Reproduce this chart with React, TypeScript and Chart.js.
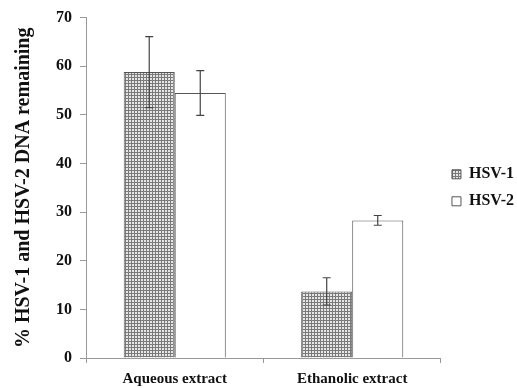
import React, { useEffect, useRef } from "react";
import { Chart, registerables } from "chart.js";

Chart.register(...registerables);

const categories = ["Aqueous extract", "Ethanolic extract"];
const seriesNames = ["HSV-1", "HSV-2"];
const hsv1Values = [58.8, 13.7];
const hsv1Errors = [7.3, 2.8];
const hsv2Values = [54.5, 28.3];
const hsv2Errors = [4.6, 1.0];
const yTicks = [0, 10, 20, 30, 40, 50, 60, 70];

const SERIF = "'Liberation Serif', 'Times New Roman', serif";

function makePattern(): CanvasPattern | string {
  const c = document.createElement("canvas");
  c.width = 3;
  c.height = 3;
  const ctx = c.getContext("2d");
  if (!ctx) return "#aaa";
  ctx.fillStyle = "#7a7a7a";
  ctx.fillRect(0, 0, 3, 3);
  ctx.fillStyle = "#e6e6e6";
  ctx.fillRect(0, 0, 2, 2);
  const p = ctx.createPattern(c, "repeat");
  return p || "#aaa";
}

const errorBarPlugin = {
  id: "errorBars",
  afterDatasetsDraw(chart: any) {
    const ctx = chart.ctx;
    const errs = [hsv1Errors, hsv2Errors];
    chart.data.datasets.forEach((ds: any, di: number) => {
      const meta = chart.getDatasetMeta(di);
      const yScale = chart.scales.y;
      meta.data.forEach((bar: any, i: number) => {
        const v = ds.data[i];
        const e = errs[di][i];
        const x = bar.x;
        const yTop = yScale.getPixelForValue(v + e);
        const yBot = yScale.getPixelForValue(v - e);
        ctx.save();
        ctx.strokeStyle = "#444";
        ctx.lineWidth = 1.2;
        ctx.beginPath();
        ctx.moveTo(x, yTop);
        ctx.lineTo(x, yBot);
        ctx.moveTo(x - 4, yTop);
        ctx.lineTo(x + 4, yTop);
        ctx.moveTo(x - 4, yBot);
        ctx.lineTo(x + 4, yBot);
        ctx.stroke();
        ctx.restore();
      });
    });
  },
};

export default function App() {
  const ref = useRef<HTMLCanvasElement>(null);
  useEffect(() => {
    if (!ref.current) return;
    const pattern = makePattern();
    const chart = new Chart(ref.current, {
      type: "bar",
      data: {
        labels: categories,
        datasets: [
          {
            label: seriesNames[0],
            data: hsv1Values,
            backgroundColor: pattern as any,
            borderColor: "#555",
            borderWidth: 1,
            categoryPercentage: 0.575,
            barPercentage: 1,
          },
          {
            label: seriesNames[1],
            data: hsv2Values,
            backgroundColor: "#ffffff",
            borderColor: "#555",
            borderWidth: 1,
            categoryPercentage: 0.575,
            barPercentage: 1,
          },
        ],
      },
      options: {
        responsive: false,
        animation: false,
        layout: { padding: { left: 12, right: -7, top: 7, bottom: -7 } },
        plugins: {
          legend: {
            position: "right",
            fullSize: false,
            labels: {
              boxWidth: 9,
              boxHeight: 9,
              padding: 11,
              color: "#111",
              font: { family: SERIF, size: 16, weight: "bold" },
            },
          },
          tooltip: { enabled: false },
        },
        scales: {
          x: {
            grid: { display: true, drawOnChartArea: false, tickLength: 5, color: "#999" },
            border: { color: "#999" },
            ticks: {
              color: "#111",
              padding: 7,
              font: { family: SERIF, size: 15, weight: "bold" },
            },
          },
          y: {
            min: 0,
            max: 70,
            afterBuildTicks: (axis: any) => {
              axis.ticks = yTicks.map((v) => ({ value: v }));
            },
            grid: { display: true, drawOnChartArea: false, tickLength: 6, color: "#999" },
            border: { color: "#999" },
            ticks: {
              color: "#111",
              padding: 8,
              font: { family: SERIF, size: 16, weight: "bold" },
            },
            title: {
              display: true,
              text: "% HSV-1 and HSV-2 DNA remaining",
              color: "#111",
              padding: { top: 0, bottom: 12 },
              font: { family: SERIF, size: 20, weight: "bold" },
            },
          },
        },
      },
      plugins: [errorBarPlugin],
    });
    return () => chart.destroy();
  }, []);
  return (
    <div style={{ position: "fixed", left: 0, top: 0, width: 517, height: 388, background: "#fff" }}>
      <canvas ref={ref} width={517} height={388} />
    </div>
  );
}
